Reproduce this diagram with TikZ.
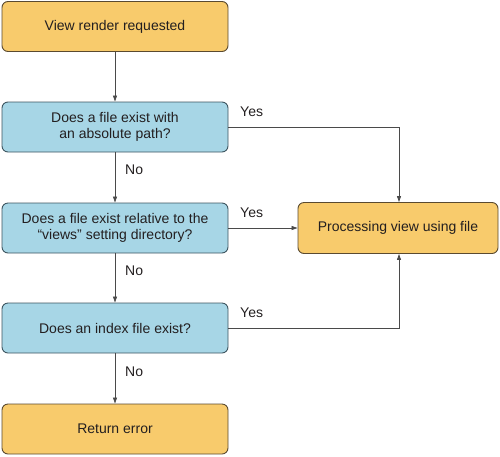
\documentclass[tikz,border=0pt]{standalone}
\usepackage{fontspec}
\setmainfont{Liberation Sans}
\usetikzlibrary{arrows.meta}
\definecolor{orfill}{HTML}{F8CB6C}
\definecolor{orline}{HTML}{5A4A30}
\definecolor{blfill}{HTML}{A7D6E6}
\definecolor{blline}{HTML}{3E5560}
\definecolor{txt}{HTML}{231F20}
\definecolor{ln}{HTML}{4A4A4A}
\tikzset{
  box/.style={rounded corners=6pt, line width=0.9pt, minimum width=226pt, minimum height=50pt,
    align=center, font=\fontsize{14}{16.5}\selectfont, text=txt, inner sep=0pt},
  obox/.style={box, draw=orline, fill=orfill},
  bbox/.style={box, draw=blline, fill=blfill},
  conn/.style={draw=ln, line width=0.8pt, -{Triangle[length=6pt,width=4pt]}},
  lab/.style={font=\fontsize{14}{16.5}\selectfont, text=txt, inner sep=0pt}
}
\begin{document}
\begin{tikzpicture}[x=1pt,y=-1pt]
\useasboundingbox (0,0) rectangle (500,456);
\node[obox] (start) at (115,26.5) {View render requested};
\node[bbox] (q1) at (115,127) {Does a file exist with\\an absolute path?};
\node[bbox] (q2) at (115,228) {Does a file exist relative to the\\\textquotedblleft views\textquotedblright{} setting directory?};
\node[bbox] (q3) at (115,328) {Does an index file exist?};
\node[obox] (err) at (115,429) {Return error};
\node[obox, minimum width=200pt, minimum height=51pt] (proc) at (398,228) {Processing view using file};
\coordinate (c1) at (399,127);
\coordinate (c3) at (399,328);
\draw[conn] (start) -- (q1);
\draw[conn] (q1) -- (q2);
\draw[conn] (q2) -- (q3);
\draw[conn] (q3) -- (err);
\draw[conn] (q1.east) -- (c1) -- (c1 |- proc.north);
\draw[conn] (q2.east) -- (proc.west);
\draw[conn] (q3.east) -- (c3) -- (c3 |- proc.south);
\node[lab, anchor=west] (y1) at (240,112) {Yes};
\node[lab, anchor=west] (y2) at (240,213) {Yes};
\node[lab, anchor=west] (y3) at (240,313) {Yes};
\node[lab, anchor=west] (n1) at (125,170) {No};
\node[lab, anchor=west] (n2) at (125,271) {No};
\node[lab, anchor=west] (n3) at (125,372) {No};
\end{tikzpicture}
\end{document}
